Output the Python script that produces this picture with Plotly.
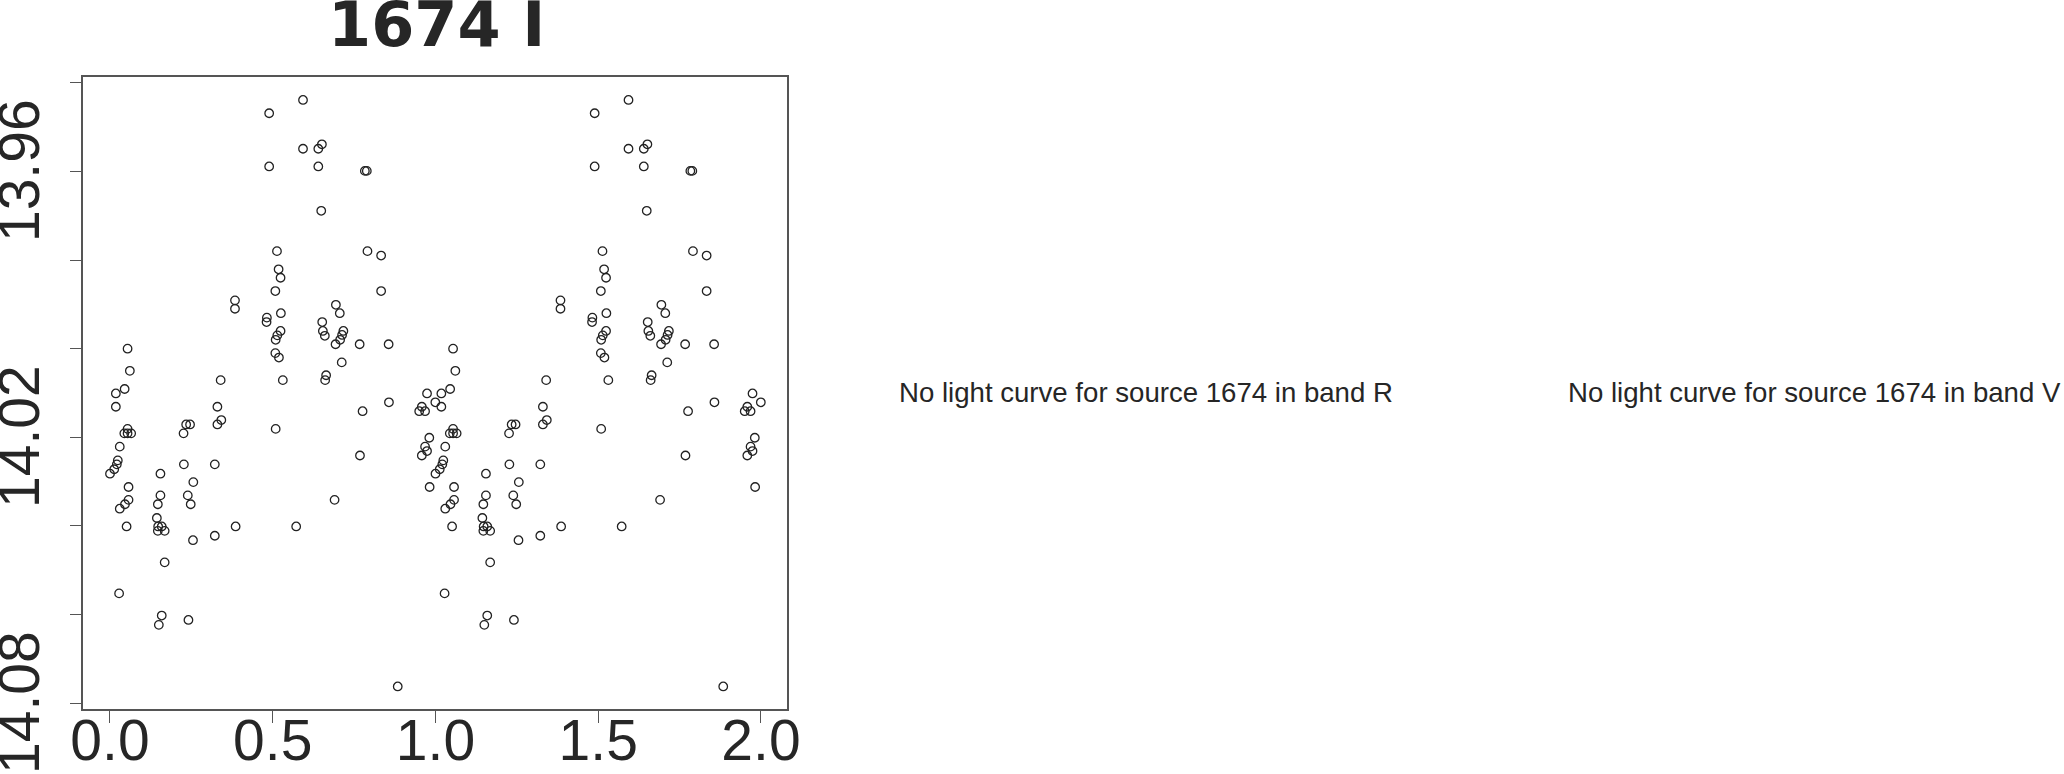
import plotly.graph_objects as go

# Phase-folded light curve of source 1674, band I (one cycle; plotted twice)
phase = [0.000, 0.013, 0.021, 0.024, 0.030, 0.030, 0.028, 0.018, 0.018, 0.045,
         0.054, 0.061, 0.054, 0.044, 0.054, 0.065, 0.057, 0.057, 0.046, 0.051,
         0.155, 0.155, 0.147, 0.144, 0.148, 0.159, 0.147, 0.168, 0.168, 0.159,
         0.150, 0.227, 0.256, 0.239, 0.248, 0.255, 0.241, 0.234, 0.246, 0.226,
         0.322, 0.322, 0.386, 0.330, 0.342, 0.330, 0.340, 0.384, 0.384, 0.509,
         0.572, 0.489, 0.489, 0.513, 0.518, 0.524, 0.508, 0.525, 0.482, 0.481,
         0.524, 0.514, 0.509, 0.508, 0.519, 0.531, 0.593, 0.593, 0.640, 0.651,
         0.640, 0.783, 0.789, 0.649, 0.791, 0.833, 0.833, 0.694, 0.706, 0.652,
         0.654, 0.660, 0.717, 0.713, 0.707, 0.693, 0.767, 0.856, 0.712, 0.664,
         0.661, 0.857, 0.776, 0.768, 0.690, 0.884, 0.950, 0.958, 0.968, 0.974,
         0.9995, 0.981, 0.968, 0.974, 0.958, 0.982]
mag = [14.0282, 14.0272, 14.0261, 14.0252, 14.0221, 14.0361, 14.0552, 14.0101, 14.0131, 14.0091,
       14.0000, 14.0050, 14.0181, 14.0191, 14.0191, 14.0191, 14.0312, 14.0341, 14.0351, 14.0401,
       14.0282, 14.0331, 14.0351, 14.0382, 14.0401, 14.0401, 14.0411, 14.0411, 14.0482, 14.0602,
       14.0623, 14.0261, 14.0301, 14.0331, 14.0351, 14.0432, 14.0612, 14.0171, 14.0171, 14.0191,
       14.0261, 14.0422, 14.0401, 14.0131, 14.0161, 14.0171, 14.0071, 13.9891, 13.9910, 14.0181,
       14.0401, 13.9469, 13.9589, 13.9780, 13.9821, 13.9840, 13.9870, 13.9920, 13.9930, 13.9940,
       13.9960, 13.9970, 13.9980, 14.0010, 14.0020, 14.0071, 13.9439, 13.9549, 13.9549, 13.9539,
       13.9589, 13.9599, 13.9599, 13.9689, 13.9780, 13.9790, 13.9870, 13.9901, 13.9920, 13.9940,
       13.9960, 13.9971, 13.9960, 13.9969, 13.9980, 13.9990, 13.9990, 13.9990, 14.0031, 14.0060,
       14.0071, 14.0121, 14.0141, 14.0241, 14.0341, 14.0762, 14.0141, 14.0131, 14.0141, 14.0101,
       14.0121, 14.0201, 14.0221, 14.0231, 14.0241, 14.0312]

source_id = "1674"
band = "I"
missing_bands = ["R", "V"]

x_tickvals = [0.0, 0.5, 1.0, 1.5, 2.0]
x_ticktext = ["0.0", "0.5", "1.0", "1.5", "2.0"]
y_tickvals = [13.94, 13.96, 13.98, 14.00, 14.02, 14.04, 14.06, 14.08]
y_ticktext = ["", "13.96\u00a0", "", "", "14.02\u00a0", "", "", "14.08\u00a0"]

W, H = 2064, 774
FONT = "Liberation Sans, Arial, Helvetica, sans-serif"
TITLE_FONT = "DejaVu Sans, Liberation Sans, Arial, sans-serif"
INK = "#262626"
FRAME = "#555555"

x_all = phase + [p + 1 for p in phase]
y_all = mag + mag

fig = go.Figure()
fig.add_trace(go.Scatter(
    x=x_all, y=y_all, mode="markers",
    marker=dict(symbol="circle-open", size=8.5, color="#222222",
                line=dict(width=1.3, color="#222222")),
    showlegend=False, hoverinfo="skip"))

left, right, top, bottom = 83.3, 786.7, 76.7, 709.3
fig.update_layout(
    width=W, height=H,
    margin=dict(l=0, r=0, t=0, b=0, pad=0),
    paper_bgcolor="white", plot_bgcolor="white",
    font=dict(family=FONT, color=INK),
    xaxis=dict(domain=[left / W, right / W], range=[-0.082, 2.079],
               tickvals=x_tickvals, ticktext=x_ticktext,
               ticks="outside", ticklen=12, tickwidth=1.3, tickcolor=FRAME,
               showline=True, linecolor=FRAME, linewidth=1.5, mirror=True,
               showgrid=False, zeroline=False, automargin=False,
               ticklabelstandoff=-31, ticklabeloverflow="allow",
               tickfont=dict(size=57, family=FONT, color=INK)),
    yaxis=dict(domain=[1 - bottom / H, 1 - top / H], range=[14.08135, 13.93865],
               tickvals=y_tickvals, ticktext=y_ticktext, tickangle=-90,
               ticks="outside", ticklen=12, tickwidth=1.3, tickcolor=FRAME,
               showline=True, linecolor=FRAME, linewidth=1.5, mirror=True,
               showgrid=False, zeroline=False, automargin=False,
               ticklabelstandoff=8, ticklabeloverflow="allow",
               tickfont=dict(size=57, family=FONT, color=INK)),
)

# title
fig.add_annotation(x=436 / W, y=1 - 25 / H, xref="paper", yref="paper",
                   text="<b>%s %s</b>" % (source_id, band), showarrow=False,
                   xanchor="center", yanchor="middle",
                   font=dict(size=62, family=TITLE_FONT, color=INK))

centers = [1146, 1814.5]
for b, cx in zip(missing_bands, centers):
    fig.add_annotation(x=cx / W, y=1 - 392 / H, xref="paper", yref="paper",
                       text="No light curve for source %s in band %s" % (source_id, b),
                       showarrow=False, xanchor="center", yanchor="middle",
                       font=dict(size=27.6, family=FONT, color=INK))

fig.write_html("out.html", config={"displayModeBar": False},
               post_script="document.body.style.margin='0px';")
